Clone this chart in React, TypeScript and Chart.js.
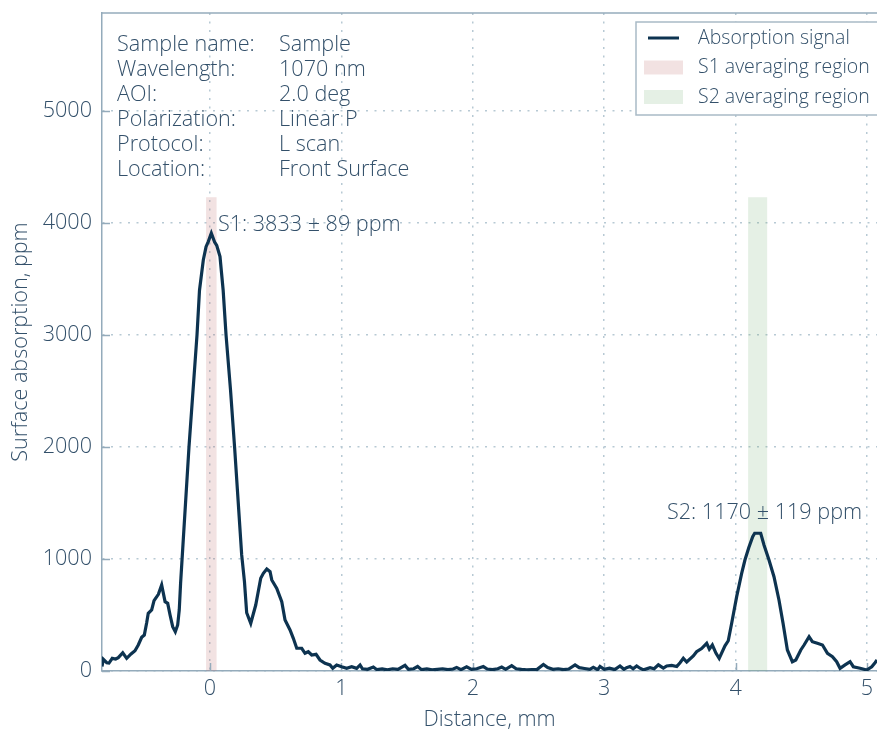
import React, { useEffect, useRef } from "react";
import { Chart, registerables } from "chart.js";

Chart.register(...registerables);

// ---- data ----
const distanceMm = [
  -0.822, -0.812, -0.786, -0.769, -0.744, -0.718, -0.698, -0.664, -0.634, -0.601,
  -0.571, -0.546, -0.52, -0.5, -0.482, -0.47, -0.444, -0.426, -0.393, -0.368,
  -0.342, -0.322, -0.304, -0.284, -0.264, -0.246, -0.234, -0.224, -0.16, -0.099,
  -0.08, -0.051, -0.03, -0.013, 0.01, 0.035, 0.051, 0.076, 0.1, 0.122,
  0.156, 0.187, 0.241, 0.262, 0.279, 0.31, 0.348, 0.386, 0.406, 0.432,
  0.457, 0.47, 0.508, 0.546, 0.571, 0.609, 0.634, 0.66, 0.698, 0.723,
  0.748, 0.774, 0.807, 0.837, 0.875, 0.913, 0.934, 0.964, 1.002, 1.04,
  1.078, 1.116, 1.142, 1.16, 1.2, 1.243, 1.27, 1.31, 1.35, 1.39,
  1.43, 1.484, 1.51, 1.55, 1.58, 1.61, 1.65, 1.69, 1.73, 1.77,
  1.81, 1.85, 1.877, 1.91, 1.953, 1.99, 2.03, 2.08, 2.11, 2.15,
  2.19, 2.22, 2.25, 2.296, 2.33, 2.37, 2.41, 2.45, 2.49, 2.537,
  2.57, 2.61, 2.65, 2.69, 2.73, 2.778, 2.81, 2.85, 2.89, 2.917,
  2.95, 2.968, 3.0, 3.04, 3.08, 3.12, 3.15, 3.17, 3.196, 3.22,
  3.247, 3.272, 3.3, 3.349, 3.38, 3.412, 3.45, 3.476, 3.514, 3.552,
  3.577, 3.602, 3.628, 3.678, 3.703, 3.741, 3.78, 3.8, 3.823, 3.851,
  3.875, 3.919, 3.944, 3.97, 4.008, 4.046, 4.071, 4.1, 4.13, 4.145,
  4.191, 4.216, 4.254, 4.292, 4.33, 4.361, 4.394, 4.432, 4.458, 4.496,
  4.521, 4.559, 4.584, 4.622, 4.661, 4.699, 4.737, 4.769, 4.795, 4.833,
  4.871, 4.896, 4.947, 4.998, 5.036, 5.061, 5.076,
];
const absorptionPpm = [
  40, 105, 74, 71, 113, 107, 119, 163, 113, 152,
  181, 232, 301, 321, 431, 515, 545, 628, 685, 768,
  619, 604, 500, 396, 351, 411, 545, 780, 2000, 3000,
  3400, 3670, 3789, 3834, 3909, 3830, 3800, 3700, 3400, 3000,
  2509, 2000, 1036, 800, 520, 426, 589, 828, 872, 911,
  887, 813, 738, 619, 455, 366, 292, 203, 203, 158,
  172, 143, 149, 98, 69, 54, 24, 54, 38, 24,
  38, 24, 54, 20, 15, 36, 12, 18, 10, 20,
  14, 50, 15, 20, 40, 12, 18, 10, 15, 20,
  12, 18, 32, 12, 38, 15, 20, 40, 18, 12,
  20, 35, 15, 48, 20, 14, 10, 12, 15, 58,
  30, 15, 20, 12, 18, 55, 30, 22, 15, 32,
  12, 40, 15, 25, 12, 45, 15, 30, 40, 20,
  45, 25, 10, 30, 20, 55, 25, 45, 50, 40,
  74, 113, 80, 135, 172, 200, 247, 195, 232, 158,
  113, 225, 270, 426, 664, 872, 991, 1100, 1200, 1230,
  1230, 1125, 991, 842, 634, 426, 188, 83, 98, 188,
  232, 306, 262, 247, 232, 158, 128, 83, 24, 54,
  83, 38, 24, 9, 38, 74, 98,
];
const xTicks = [0, 1, 2, 3, 4, 5];
const yTicks = [0, 1000, 2000, 3000, 4000, 5000];
const xRange = [-0.822, 5.076];
const yRange = [0, 5875];
const s1Region = [-0.03, 0.05];
const s2Region = [4.095, 4.24];
const regionTop = 4230;
const s1Label = "S1: 3833 ± 89 ppm";
const s2Label = "S2: 1170 ± 119 ppm";
const s1LabelAt = [0.06, 3985];
const s2LabelAt = [4.22, 1410];
const infoLabels = ["Sample name:", "Wavelength:", "AOI:", "Polarization:", "Protocol:", "Location:"];
const infoValues = ["Sample", "1070 nm", "2.0 deg", "Linear P", "L scan", "Front Surface"];
const legendLabels = ["Absorption signal", "S1 averaging region", "S2 averaging region"];

// ---- styles ----
const FONT = "'Open Sans', sans-serif";
const FSIZE = 21.6;
const LSIZE = 19.5;
const FWEIGHT = "300";
const TEXT = "#33506a";
const LINE = "#0d3350";
const AXIS = "#94abbb";
const GRID = "#b7c9d4";
const PINK = "rgba(190,110,110,0.2)";
const GREEN = "rgba(110,170,110,0.18)";

export default function App() {
  const ref = useRef<HTMLCanvasElement | null>(null);

  useEffect(() => {
    document.body.style.margin = "0";
    const canvas = ref.current;
    if (!canvas) return;

    const decorPlugin = {
      id: "decor",
      beforeDatasetsDraw(chart: any) {
        const { ctx, chartArea, scales } = chart;
        const xs = scales.x;
        const ys = scales.y;
        ctx.save();
        const bands: [number[], string][] = [
          [s1Region, PINK],
          [s2Region, GREEN],
        ];
        for (const [r, c] of bands) {
          const x1 = xs.getPixelForValue(r[0]);
          const x2 = xs.getPixelForValue(r[1]);
          const yt = ys.getPixelForValue(regionTop);
          const yb = ys.getPixelForValue(0);
          ctx.fillStyle = c;
          ctx.fillRect(x1, yt, x2 - x1, yb - yt);
        }
        ctx.strokeStyle = AXIS;
        ctx.lineWidth = 1.5;
        ctx.beginPath();
        ctx.moveTo(chartArea.left, chartArea.top);
        ctx.lineTo(chartArea.right, chartArea.top);
        ctx.stroke();
        for (const v of xTicks) {
          const px = Math.round(xs.getPixelForValue(v)) + 0.5;
          ctx.beginPath();
          ctx.moveTo(px, chartArea.bottom);
          ctx.lineTo(px, chartArea.bottom - 8);
          ctx.stroke();
        }
        for (const v of yTicks) {
          const py = Math.round(ys.getPixelForValue(v)) + 0.5;
          ctx.beginPath();
          ctx.moveTo(chartArea.left, py);
          ctx.lineTo(chartArea.left + 8, py);
          ctx.stroke();
        }
        ctx.restore();
      },
      afterDraw(chart: any) {
        const { ctx, chartArea, scales } = chart;
        const xs = scales.x;
        const ys = scales.y;
        ctx.save();
        ctx.font = `${FWEIGHT} ${FSIZE}px ${FONT}`;
        ctx.fillStyle = TEXT;
        ctx.textBaseline = "middle";
        ctx.textAlign = "left";
        infoLabels.forEach((t, i) => {
          const y = chartArea.top + 32 + i * 25;
          ctx.fillText(t, chartArea.left + 15, y);
          ctx.fillText(infoValues[i], chartArea.left + 177, y);
        });
        ctx.fillText(s1Label, xs.getPixelForValue(s1LabelAt[0]), ys.getPixelForValue(s1LabelAt[1]));
        ctx.textAlign = "center";
        ctx.fillText(s2Label, xs.getPixelForValue(s2LabelAt[0]), ys.getPixelForValue(s2LabelAt[1]));
        const bx = chartArea.right - 241;
        const by = chartArea.top + 9;
        ctx.fillStyle = "#ffffff";
        ctx.fillRect(bx, by, 260, 93);
        ctx.strokeStyle = "#a9bac6";
        ctx.lineWidth = 1.5;
        ctx.strokeRect(bx, by, 260, 93);
        const rowY = [by + 16, by + 45.5, by + 75];
        ctx.strokeStyle = LINE;
        ctx.lineWidth = 3;
        ctx.beginPath();
        ctx.moveTo(bx + 12, rowY[0]);
        ctx.lineTo(bx + 43, rowY[0]);
        ctx.stroke();
        ctx.fillStyle = PINK;
        ctx.fillRect(bx + 8, rowY[1] - 7, 39, 14);
        ctx.fillStyle = GREEN;
        ctx.fillRect(bx + 8, rowY[2] - 7, 39, 14);
        ctx.fillStyle = TEXT;
        ctx.textAlign = "left";
        ctx.font = `${FWEIGHT} ${LSIZE}px ${FONT}`;
        legendLabels.forEach((t, i) => ctx.fillText(t, bx + 62, rowY[i]));
        ctx.restore();
      },
    };

    const tickFont = { family: FONT, size: FSIZE, weight: FWEIGHT as any };

    const chart = new Chart(canvas, {
      type: "line",
      data: {
        datasets: [
          {
            label: legendLabels[0],
            data: distanceMm.map((x, i) => ({ x, y: absorptionPpm[i] })),
            borderColor: LINE,
            borderWidth: 3.2,
            pointRadius: 0,
            tension: 0,
            fill: false,
          },
        ],
      },
      options: {
        animation: false,
        responsive: false,
        devicePixelRatio: 1,
        layout: { padding: { top: 13, right: 0, left: 0, bottom: 0 } },
        plugins: { legend: { display: false }, tooltip: { enabled: false } },
        scales: {
          x: {
            type: "linear",
            min: xRange[0],
            max: xRange[1],
            afterBuildTicks: (s: any) => {
              s.ticks = xTicks.map((v) => ({ value: v }));
            },
            afterFit: (s: any) => {
              s.height = 62;
              s.paddingLeft = 0;
              s.paddingRight = 0;
            },
            ticks: {
              font: tickFont,
              color: TEXT,
              padding: 5,
              maxRotation: 0,
              callback: (v: any) => String(v),
            },
            grid: { color: GRID, lineWidth: 1.5, drawTicks: false },
            border: { display: true, color: AXIS, width: 1.5, dash: [2, 6.5] },
            title: {
              display: true,
              text: "Distance, mm",
              font: tickFont,
              color: TEXT,
              padding: { top: 0, bottom: 0 },
            },
          },
          y: {
            type: "linear",
            min: yRange[0],
            max: yRange[1],
            afterBuildTicks: (s: any) => {
              s.ticks = yTicks.map((v) => ({ value: v }));
            },
            afterFit: (s: any) => {
              s.width = 102;
              s.paddingTop = 0;
              s.paddingBottom = 0;
            },
            ticks: {
              font: tickFont,
              color: TEXT,
              padding: 10,
              callback: (v: any) => String(v),
            },
            grid: { color: GRID, lineWidth: 1.5, drawTicks: false },
            border: { display: true, color: AXIS, width: 1.5, dash: [2, 6.5] },
            title: {
              display: true,
              text: "Surface absorption, ppm",
              font: tickFont,
              color: TEXT,
              padding: { top: 8, bottom: 0 },
            },
          },
        },
      },
      plugins: [decorPlugin],
    });

    return () => chart.destroy();
  }, []);

  return (
    <div style={{ width: 877, height: 733 }}>
      <canvas ref={ref} width={877} height={733} style={{ display: "block" }} />
    </div>
  );
}
